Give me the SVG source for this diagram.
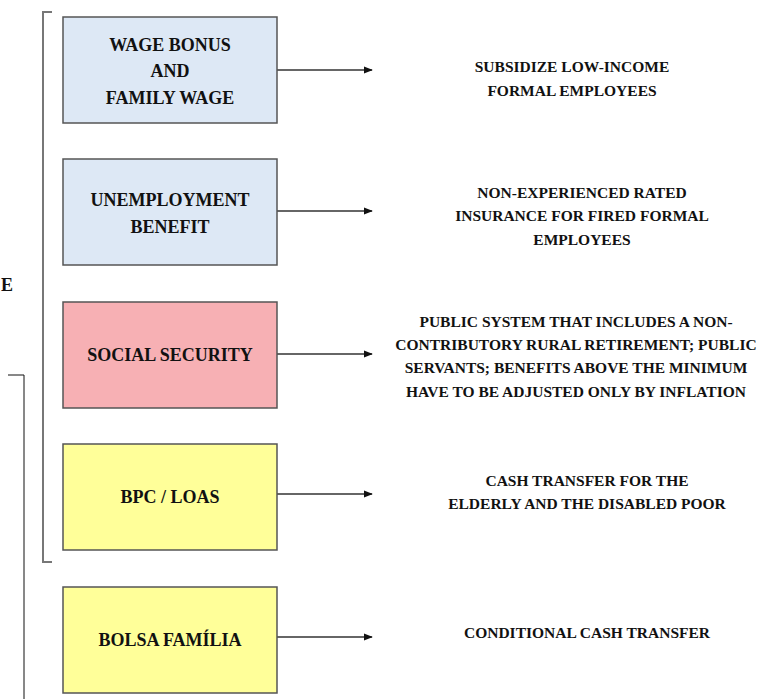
<svg xmlns="http://www.w3.org/2000/svg" width="767" height="699" viewBox="0 0 767 699">
<defs>
<style>
.box{stroke:#555;stroke-width:1.5}
.blue{fill:#dde8f5}
.pink{fill:#f7b0b4}
.yellow{fill:#ffff99}
text{font-family:'Liberation Serif','Times New Roman',Times,serif;font-weight:700;fill:#111}
.bt{font-size:18px;text-anchor:middle}
.rt{font-size:15.5px;text-anchor:middle}
.arr{stroke:#333;stroke-width:1.5;fill:none;marker-end:url(#ah)}
</style>
<marker id="ah" viewBox="0 0 10 10" refX="9" refY="5" markerWidth="6" markerHeight="6" orient="auto" markerUnits="strokeWidth">
<path d="M0,1 L10,5 L0,9 z" fill="#111"/>
</marker>
</defs>
<rect width="767" height="699" fill="#fff"/>
<g id="brackets">
<path d="M52,12 H43 V562 H52" fill="none" stroke="#777" stroke-width="2"/>
<path d="M8,375 H24 V699" fill="none" stroke="#111" stroke-width="1"/>
<text x="1" y="291" font-size="18">E</text>
</g>
<g id="connectors">
<line class="arr" x1="277" y1="70" x2="372" y2="70"/>
<line class="arr" x1="277" y1="211" x2="372" y2="211"/>
<line class="arr" x1="277" y1="354" x2="372" y2="354"/>
<line class="arr" x1="277" y1="494" x2="372" y2="494"/>
<line class="arr" x1="277" y1="637" x2="372" y2="637"/>
</g>
<g id="node-wage">
<rect class="box blue" x="63" y="17" width="214" height="106"/>
<text class="bt" x="170" y="51">WAGE BONUS</text>
<text class="bt" x="170" y="77">AND</text>
<text class="bt" x="170" y="104">FAMILY WAGE</text>
</g>
<g id="node-unemployment">
<rect class="box blue" x="63" y="159" width="214" height="106"/>
<text class="bt" x="170" y="206">UNEMPLOYMENT</text>
<text class="bt" x="170" y="233">BENEFIT</text>
</g>
<g id="node-social">
<rect class="box pink" x="63" y="302" width="214" height="106"/>
<text class="bt" x="170" y="361">SOCIAL SECURITY</text>
</g>
<g id="node-bpc">
<rect class="box yellow" x="63" y="444" width="214" height="106"/>
<text class="bt" x="170" y="503">BPC / LOAS</text>
</g>
<g id="node-bolsa">
<rect class="box yellow" x="63" y="587" width="214" height="106"/>
<text class="bt" x="170" y="646">BOLSA FAMÍLIA</text>
</g>
<g id="desc-wage">
<text class="rt" x="572" y="72">SUBSIDIZE LOW-INCOME</text>
<text class="rt" x="572" y="96">FORMAL EMPLOYEES</text>
</g>
<g id="desc-unemployment">
<text class="rt" x="582" y="198">NON-EXPERIENCED RATED</text>
<text class="rt" x="582" y="221">INSURANCE FOR FIRED FORMAL</text>
<text class="rt" x="582" y="245">EMPLOYEES</text>
</g>
<g id="desc-social">
<text class="rt" x="576" y="327">PUBLIC SYSTEM THAT INCLUDES A NON-</text>
<text class="rt" x="576" y="350">CONTRIBUTORY RURAL RETIREMENT; PUBLIC</text>
<text class="rt" x="576" y="373">SERVANTS; BENEFITS ABOVE THE MINIMUM</text>
<text class="rt" x="576" y="397">HAVE TO BE ADJUSTED ONLY BY INFLATION</text>
</g>
<g id="desc-bpc">
<text class="rt" x="587" y="486">CASH TRANSFER FOR THE</text>
<text class="rt" x="587" y="509">ELDERLY AND THE DISABLED POOR</text>
</g>
<g id="desc-bolsa">
<text class="rt" x="587" y="638">CONDITIONAL CASH TRANSFER</text>
</g>
</svg>
